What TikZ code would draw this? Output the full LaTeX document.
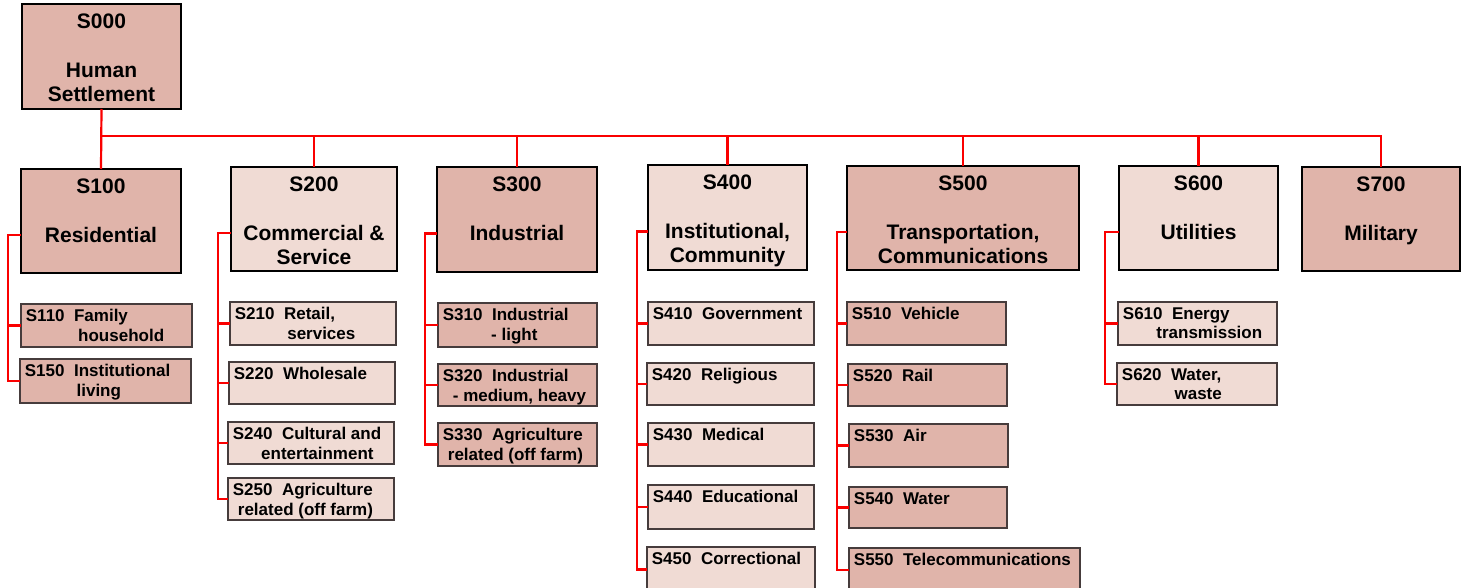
\documentclass[tikz,border=0pt]{standalone}
\usepackage{fontspec}
\setmainfont{Liberation Sans}
\definecolor{dk}{RGB}{224,180,170}
\definecolor{lt}{RGB}{240,219,212}
\definecolor{ln}{RGB}{250,0,0}
\definecolor{kb}{RGB}{70,60,60}
\tikzset{
  bigb/.style={draw=black, line width=2pt, inner sep=0pt, outer sep=0pt, anchor=north west},
  kidb/.style={draw=kb, line width=1.1pt, inner sep=0pt, outer sep=0pt, anchor=north west},
  bigt/.style={font=\fontsize{21}{24.5}\selectfont\bfseries, align=center, anchor=north, inner sep=0pt},
  kidt/.style={font=\fontsize{17}{19.5}\selectfont\bfseries, align=left, anchor=north west, inner sep=0pt},
  link/.style={draw=ln, line width=2.2pt}
}
\newcommand\bigbox[6]{\node[bigb, fill=#6, minimum width={#4pt-#2pt}, minimum height={#5pt-#3pt}] (#1) at (#2,#3) {};}
\newcommand\kidbox[6]{\node[kidb, fill=#6, minimum width={#4pt-#2pt}, minimum height={#5pt-#3pt}] (#1) at (#2,#3) {};}
\newcommand\bigtext[2]{\node[bigt] (#1t) at ([yshift=-9.2pt]#1.north) {#2};}
\newcommand\kidtext[2]{\node[kidt] (#1t) at ([xshift=4.7pt,yshift=-5.1pt]#1.north west) {#2};}
\begin{document}
\begin{tikzpicture}[x=1pt,y=-1pt]
\useasboundingbox (0,0) rectangle (1461,588);
\clip (0,0) rectangle (1461,588);
\coordinate (bus) at (0,136);
\coordinate (sp1) at (8,0);
\coordinate (sp2) at (218,0);
\coordinate (sp3) at (425,0);
\coordinate (sp4) at (637,0);
\coordinate (sp5) at (837,0);
\coordinate (sp6) at (1105,0);
\bigbox{s000}{22}{4}{181}{109}{dk}
\bigbox{s100}{21}{169}{181}{273}{dk}
\bigbox{s200}{231}{167}{397}{271}{lt}
\bigbox{s300}{437}{167}{597}{272}{dk}
\bigbox{s400}{648}{165}{807}{270}{lt}
\bigbox{s500}{847}{166}{1079}{270}{dk}
\bigbox{s600}{1119}{166}{1278}{270}{lt}
\bigbox{s700}{1302}{167}{1460}{271}{dk}
\bigtext{s000}{S000\\[24.5pt]Human\\Settlement}
\bigtext{s100}{S100\\[24.5pt]Residential}
\bigtext{s200}{S200\\[24.5pt]Commercial \&\\Service}
\bigtext{s300}{S300\\[24.5pt]Industrial}
\bigtext{s400}{S400\\[24.5pt]Institutional,\\Community}
\bigtext{s500}{S500\\[24.5pt]Transportation,\\Communications}
\bigtext{s600}{S600\\[24.5pt]Utilities}
\bigtext{s700}{S700\\[24.5pt]Military}
% children
\kidbox{s110}{21}{304}{192}{347}{dk}
\kidbox{s150}{20}{359}{191}{403}{dk}
\kidbox{s210}{230}{302}{396}{345}{lt}
\kidbox{s220}{229}{362}{395}{404}{lt}
\kidbox{s240}{228}{422}{394}{464}{lt}
\kidbox{s250}{228}{478}{394}{520}{lt}
\kidbox{s310}{438}{303}{597}{347}{dk}
\kidbox{s320}{438}{364}{597}{406}{dk}
\kidbox{s330}{438}{423}{597}{466}{dk}
\kidbox{s410}{648}{302}{814}{345}{lt}
\kidbox{s420}{647}{363}{814}{405}{lt}
\kidbox{s430}{648}{423}{814}{466}{lt}
\kidbox{s440}{648}{485}{814}{529}{lt}
\kidbox{s450}{647}{547}{815}{592}{lt}
\kidbox{s510}{847}{302}{1006}{345}{dk}
\kidbox{s520}{848}{364}{1007}{406}{dk}
\kidbox{s530}{849}{424}{1008}{467}{dk}
\kidbox{s540}{849}{487}{1007}{528}{dk}
\kidbox{s550}{849}{548}{1080}{592}{dk}
\kidbox{s610}{1118}{302}{1277}{345}{lt}
\kidbox{s620}{1117}{363}{1277}{405}{lt}
\kidtext{s110}{S110~~Family\\\hspace*{52.3pt}household}
\kidtext{s150}{S150~~Institutional\\\hspace*{51.7pt}living}
\kidtext{s210}{S210~~Retail,\\\hspace*{52.4pt}services}
\kidtext{s220}{S220~~Wholesale}
\kidtext{s240}{S240~~Cultural and\\\hspace*{28.3pt}entertainment}
\kidtext{s250}{S250~~Agriculture\\\hspace*{5pt}related (off farm)}
\kidtext{s310}{S310~~Industrial\\\hspace*{48.3pt}- light}
\kidtext{s320}{S320~~Industrial\\\hspace*{10pt}- medium, heavy}
\kidtext{s330}{S330~~Agriculture\\\hspace*{5pt}related (off farm)}
\kidtext{s410}{S410~~Government}
\kidtext{s420}{S420~~Religious}
\kidtext{s430}{S430~~Medical}
\kidtext{s440}{S440~~Educational}
\kidtext{s450}{S450~~Correctional}
\kidtext{s510}{S510~~Vehicle}
\kidtext{s520}{S520~~Rail}
\kidtext{s530}{S530~~Air}
\kidtext{s540}{S540~~Water}
\kidtext{s550}{S550~~Telecommunications}
\kidtext{s610}{S610~~Energy\\\hspace*{33.5pt}transmission}
\kidtext{s620}{S620~~Water,\\\hspace*{52.7pt}waste}
% level-1 connectors
\draw[link] (s000.south) -- (s100.north);
\draw[link] (s100.north |- bus) -- (s700.north |- bus) -- (s700.north);
\foreach \n in {s200,s300,s400,s500,s600}
  \draw[link] (\n.north |- bus) -- (\n.north);
% child spines
\draw[link] ([yshift=-14pt]s100.west) -| (s150.west -| sp1) -- (s150.west);
\draw[link] (s110.west -| sp1) -- (s110.west);
\draw[link] ([yshift=-14pt]s200.west) -| (s250.west -| sp2) -- (s250.west);
\foreach \n in {s210,s220,s240} \draw[link] (\n.west -| sp2) -- (\n.west);
\draw[link] ([yshift=-14pt]s300.west) -| (s330.west -| sp3) -- (s330.west);
\foreach \n in {s310,s320} \draw[link] (\n.west -| sp3) -- (\n.west);
\draw[link] ([yshift=-14pt]s400.west) -| (s450.west -| sp4) -- (s450.west);
\foreach \n in {s410,s420,s430,s440} \draw[link] (\n.west -| sp4) -- (\n.west);
\draw[link] ([yshift=-14pt]s500.west) -| (s550.west -| sp5) -- (s550.west);
\foreach \n in {s510,s520,s530,s540} \draw[link] (\n.west -| sp5) -- (\n.west);
\draw[link] ([yshift=-14pt]s600.west) -| (s620.west -| sp6) -- (s620.west);
\draw[link] (s610.west -| sp6) -- (s610.west);
\end{tikzpicture}
\end{document}
